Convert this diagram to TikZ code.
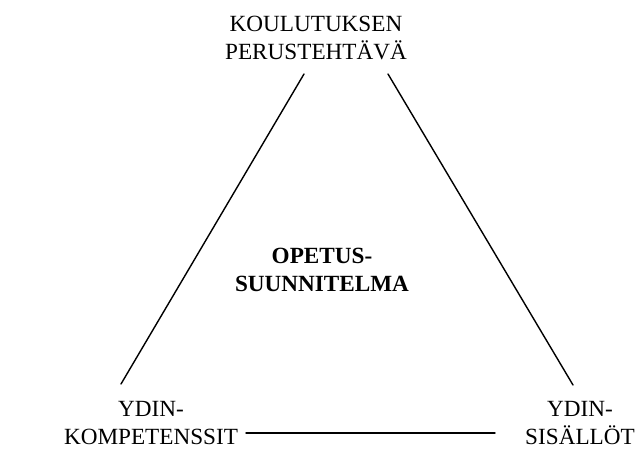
\documentclass[tikz,border=0pt]{standalone}
\usepackage{fontspec}
\setmainfont{Liberation Serif}
\usetikzlibrary{positioning}
\tikzset{
  lab/.style={align=center, font=\fontsize{13.2}{15.8}\selectfont, inner sep=0pt},
  mid/.style={lab, font=\fontsize{13.2}{15.8}\selectfont\bfseries},
  edg/.style={line width=0.8pt, line cap=round}
}

\begin{document}
\begin{tikzpicture}[x=0.02cm, y=-0.02cm]
		\useasboundingbox (0,0) rectangle (642,453);
		\node[lab] (task) at (316,38) {KOULUTUKSEN\\PERUSTEHTÄVÄ};
		\node[lab] (comp) at (151,423) {YDIN-\\KOMPETENSSIT};
		\node[lab] (cont) at (580,423) {YDIN-\\SISÄLLÖT};
		\node[mid] (plan) at (322,270) {OPETUS-\\SUUNNITELMA};
		\coordinate (tl) at (304,74);
		\coordinate (tr) at (388,74);
		\coordinate (bl) at (121,384);
		\coordinate (br) at (573,385);
		\coordinate (hl) at (246,433);
		\coordinate (hr) at (495,433);
		\draw[edg] (tl) -- (bl);
		\draw[edg] (tr) -- (br);
		\draw[edg] (hl) -- (hr);
	\end{tikzpicture}
\end{document}
